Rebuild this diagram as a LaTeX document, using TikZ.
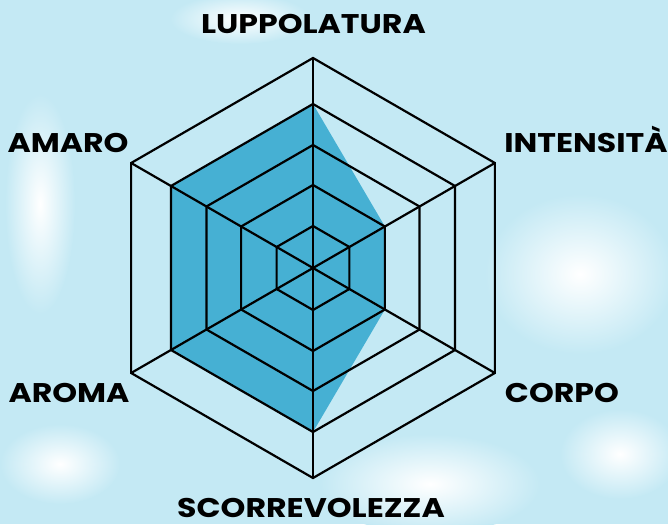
\documentclass[tikz,border=0pt]{standalone}
\usepackage{fontspec}
\setmainfont{Poppins}
\definecolor{fondo}{RGB}{196,233,244}
\definecolor{riempi}{RGB}{70,176,211}
\newcommand{\largo}[1]{\scalebox{1.17}[1]{#1}}
\tikzset{
  griglia/.style={line width=2.2pt, line join=miter},
  etichetta/.style={font=\fontsize{27}{27}\selectfont\bfseries, inner sep=0pt, anchor=base},
  nuvola/.style={inner color=white, outer color=fondo}
}
\begin{document}
\begin{tikzpicture}[x=1pt,y=1pt]
        %画背景
        \fill[fondo] (0,0) rectangle (668,524);
        \useasboundingbox (0,0) rectangle (668,524);
        \shade[nuvola] (580,250) ellipse (95 and 80);
        \shade[nuvola] (430,40) ellipse (110 and 50);
        \shade[nuvola] (40,320) ellipse (35 and 110);
        \shade[nuvola] (240,505) ellipse (70 and 25);
        \shade[nuvola] (620,70) ellipse (60 and 45);
        \shade[nuvola] (60,60) ellipse (60 and 40);
        %中心点
        \coordinate (o) at (313,256);
        %画填充区域
        \fill[riempi] ([shift={(90:164)}]o) -- ([shift={(30:83)}]o)
            -- ([shift={(-30:83)}]o) -- ([shift={(-90:164)}]o)
            -- ([shift={(210:164)}]o) -- ([shift={(150:164)}]o) -- cycle;
        %画六边形网格
        \foreach \r in {42,83,123,164,210}
        {
            \draw[griglia] ([shift={(90:\r)}]o) -- ([shift={(30:\r)}]o)
                -- ([shift={(-30:\r)}]o) -- ([shift={(-90:\r)}]o)
                -- ([shift={(210:\r)}]o) -- ([shift={(150:\r)}]o) -- cycle;
        };
        %画轴线
        \foreach \a/\n in {90/lup,30/int,-30/cor,-90/sco,210/aro,150/ama}
        {
            \coordinate (v\n) at ([shift={(\a:210)}]o);
            \draw[griglia] (o) -- (v\n);
        };
        %标各轴名称
        \node[etichetta] (lup) at (313.4,490) {\largo{LUPPOLATURA}};
        \node[etichetta] (int) at (586,371.7) {\largo{INTENSITÀ}};
        \node[etichetta] (ama) at (68,371.7) {\largo{AMARO}};
        \node[etichetta] (aro) at (69,121.3) {\largo{AROMA}};
        \node[etichetta] (cor) at (562,121.3) {\largo{CORPO}};
        \node[etichetta] (sco) at (311,6.5) {\largo{SCORREVOLEZZA}};
\end{tikzpicture}
\end{document}
